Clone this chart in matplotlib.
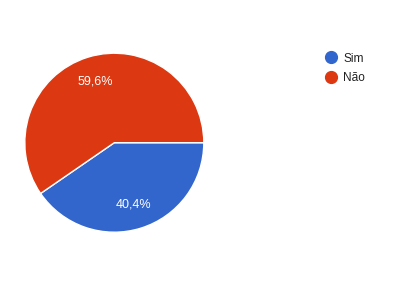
import matplotlib.pyplot as plt
from matplotlib.lines import Line2D

plt.rcParams['font.family'] = ['Liberation Sans', 'DejaVu Sans']

categorias = ["Sim", "Não"]
percentuais = [40.4, 59.6]
cores = ["#3366cc", "#dc3912"]

fig = plt.figure(figsize=(4.19, 2.81), dpi=100)
# pie area in pixel coords: centre (114, 143), radius ~89.5
ax = fig.add_axes([24.8 / 419, (281 - 232.2) / 281, 179 / 419, 179 / 281])

def rotulo(p):
    return "{:.1f}%".format(p).replace(".", ",")

wedges, textos, autotextos = ax.pie(
    percentuais, colors=cores, startangle=0, counterclock=False,
    autopct=rotulo, pctdistance=0.72,
    wedgeprops=dict(edgecolor="white", linewidth=1))
for t in autotextos:
    t.set_color("white")
    t.set_fontsize(9)
ax.set_xlim(-1, 1)
ax.set_ylim(-1, 1)
ax.set_aspect("equal")

# legenda
handles = [Line2D([], [], marker="o", linestyle="", markersize=8.5,
                  markerfacecolor=c, markeredgecolor=c) for c in cores]
fig.legend(handles, categorias, loc="upper left",
           bbox_to_anchor=(319 / 419, 1 - 52.5 / 281), frameon=False,
           fontsize=8.6, handletextpad=0.05, labelspacing=0.62,
           borderaxespad=0, borderpad=0, labelcolor="#222222")

fig.savefig("out.png", dpi=100)
